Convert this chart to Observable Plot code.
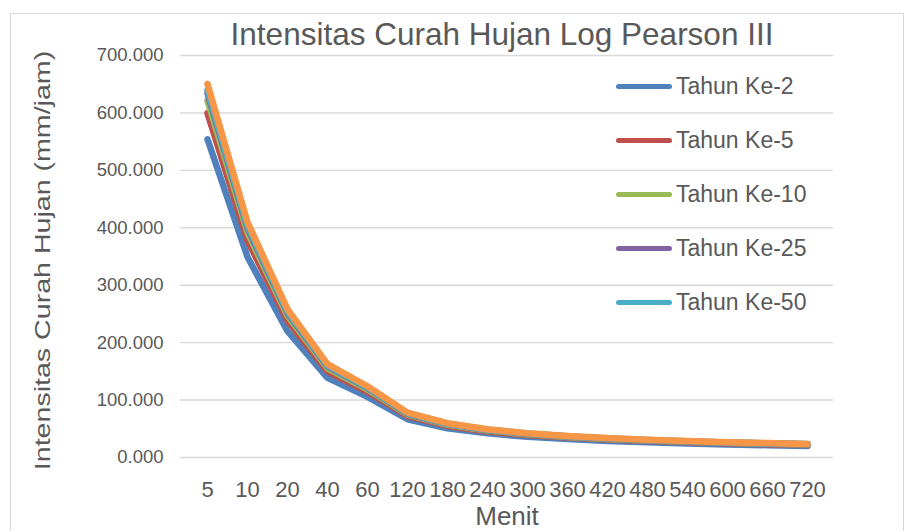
<!DOCTYPE html>
<html>
<head>
<meta charset="utf-8">
<script src="https://cdn.jsdelivr.net/npm/d3@7"></script>
<script src="https://cdn.jsdelivr.net/npm/@observablehq/plot@0.6"></script>
<style>
  html, body { margin: 0; padding: 0; background: #fff; overflow: hidden; }
  #wrap { position: relative; width: 907px; height: 531px; font-family: "Liberation Sans", Arial, sans-serif; }
  #border { position: absolute; left: 10px; top: 13px; width: 892px; height: 540px; border: 1px solid #d9d9d9; pointer-events: none; }
  #legend { position: absolute; left: 616px; top: 59px; color: #595959; font-size: 23px; }
  .item { display: flex; align-items: center; height: 54px; }
  .sw { width: 56px; height: 5px; border-radius: 3px; margin-right: 4px; }
</style>
</head>
<body>
<div id="wrap"><div id="chart"></div><div id="legend"></div><div id="border"></div></div>
<script>
const menit = ["5","10","20","40","60","120","180","240","300","360","420","480","540","600","660","720"];
const seriesNames = ["Tahun Ke-2","Tahun Ke-5","Tahun Ke-10","Tahun Ke-25","Tahun Ke-50","Tahun Ke-100"];
const colors = ["#4F81BD","#C0504D","#9BBB59","#8064A2","#4BACC6","#F79646"];
const tahun2   = [554.1,349.1,219.9,138.6,105.7,66.6,50.8,42.0,36.1,32.0,28.9,26.4,24.4,22.8,21.4,20.2];
const tahun5   = [599.5,377.7,238.0,149.9,114.4,72.1,55.0,45.4,39.1,34.7,31.3,28.6,26.4,24.6,23.1,21.8];
const tahun10  = [621.3,391.5,246.6,155.4,118.6,74.7,57.0,47.1,40.5,35.9,32.4,29.6,27.4,25.5,24.0,22.6];
const tahun25  = [634.0,399.5,251.7,158.6,121.0,76.2,58.2,48.0,41.4,36.6,33.1,30.2,28.0,26.1,24.5,23.1];
const tahun50  = [639.5,402.9,253.8,159.9,122.0,76.9,58.7,48.4,41.7,37.0,33.3,30.5,28.2,26.3,24.7,23.3];
const tahun100 = [650.4,409.8,258.2,162.6,124.1,78.2,59.7,49.3,42.4,37.6,33.9,31.0,28.7,26.7,25.1,23.7];
const yTicks = [0,100,200,300,400,500,600,700];
const title = "Intensitas Curah Hujan Log Pearson III";
const yLabel = "Intensitas Curah Hujan (mm/jam)";
const xLabel = "Menit";
const legendShown = 5;

const allSeries = [tahun2,tahun5,tahun10,tahun25,tahun50,tahun100];
const data = [];
allSeries.forEach((vals, si) => vals.forEach((v, i) => data.push({series: seriesNames[si], menit: menit[i], value: v})));

const txt = "#595959";
const chart = Plot.plot({
  width: 907, height: 531,
  marginLeft: 180, marginRight: 74, marginTop: 55, marginBottom: 74,
  style: {fontFamily: "'Liberation Sans', Arial, sans-serif", color: txt, background: "transparent"},
  x: {type: "point", domain: menit, padding: 0.5},
  y: {domain: [0, 700]},
  color: {domain: seriesNames, range: colors},
  marks: [
    Plot.gridY(yTicks, {stroke: "#d9d9d9", strokeOpacity: 1, strokeWidth: 1.4}),
    Plot.axisY(yTicks, {tickSize: 0, tickPadding: 17, tickFormat: d3.format(".3f"), fontSize: 18.5, fill: txt, label: null}),
    Plot.axisX({tickSize: 0, tickPadding: 24, fontSize: 22, fill: txt, label: null}),
    Plot.lineY(data, {x: "menit", y: "value", stroke: "series", z: "series", strokeWidth: 6.5, strokeLinecap: "round", strokeLinejoin: "round"}),
    Plot.text([title], {frameAnchor: "top", dy: -33, dx: -5, fontSize: 31.5, fill: txt}),
    Plot.text([yLabel], {frameAnchor: "left", textAnchor: "middle", dx: -138, dy: 4, rotate: -90, fontSize: 22, fill: txt, className: "ylab"}),
    Plot.text([xLabel], {frameAnchor: "bottom", dy: 67, fontSize: 26, fill: txt})
  ]
});
d3.select(chart).selectAll(".ylab text").each(function() {
  const t = this.getAttribute("transform") || "";
  this.setAttribute("transform", t + " scale(1.3,1)");
});
document.getElementById("chart").appendChild(chart);

const leg = document.getElementById("legend");
seriesNames.slice(0, legendShown).forEach((name, i) => {
  const it = document.createElement("div");
  it.className = "item";
  it.innerHTML = `<span class="sw" style="background:${colors[i]}"></span><span>${name}</span>`;
  leg.appendChild(it);
});
</script>
</body>
</html>
